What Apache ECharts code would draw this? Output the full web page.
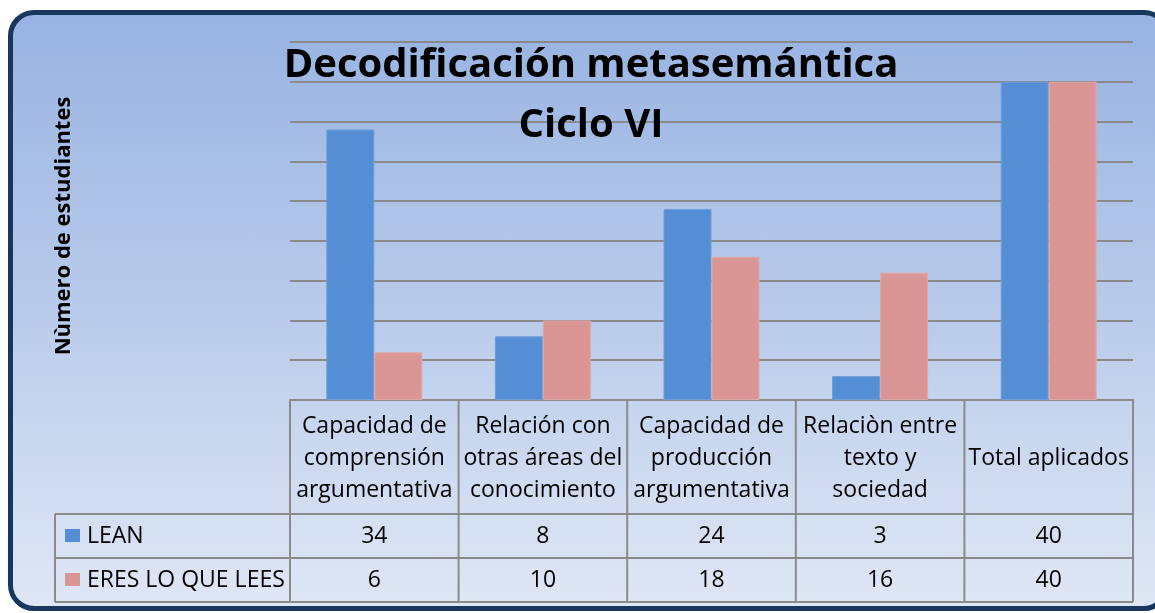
<!DOCTYPE html>
<html>
<head>
<meta charset="utf-8">
<script src="https://cdn.jsdelivr.net/npm/echarts@6/dist/echarts.min.js"></script>
<style>
  html, body { margin: 0; padding: 0; background: #fff; overflow: hidden; }
  #bg {
    position: absolute; left: 8px; top: 10px; width: 1162px; height: 601px;
    box-sizing: border-box; border: 5px solid #17375e; border-radius: 26px;
    background: linear-gradient(to bottom, #98b3e2 0%, #b9cbeb 50%, #dfe7f5 100%);
  }
  #chart { position: absolute; left: 0; top: 0; width: 1155px; height: 613px; }
</style>
</head>
<body>
<div id="bg"></div>
<div id="chart"></div>
<script>
const categories = [
  'Capacidad de\ncomprensión\nargumentativa',
  'Relación con\notras áreas del\nconocimiento',
  'Capacidad de\nproducción\nargumentativa',
  'Relaciòn entre\ntexto y\nsociedad',
  'Total aplicados',
]
const seriesNames = ['LEAN', 'ERES LO QUE LEES']
const leanValues = [34, 8, 24, 3, 40]
const eresValues = [6, 10, 18, 16, 40]
const colors = ['#558ed5', '#d99694']

// layout of plot + data table
const gridL = 290
const gridR = 1133
const axisY = 400
const rowLines = [514, 558, 602]
const legL = 55
const font = '"Open Sans", Lato, sans-serif'
const lineColor = '#8a8a8a'

const colW = (gridR - gridL) / categories.length
const graphics = []

// vertical lines of the table
for (let i = 0; i <= categories.length; i++) {
  const x = gridL + i * colW
  graphics.push({ type: 'line', shape: { x1: x, y1: axisY, x2: x, y2: rowLines[2] }, style: { stroke: lineColor, lineWidth: 2 } })
}
graphics.push({ type: 'line', shape: { x1: legL, y1: rowLines[0], x2: legL, y2: rowLines[2] }, style: { stroke: lineColor, lineWidth: 2 } })
// horizontal lines
rowLines.forEach((y) => {
  graphics.push({ type: 'line', shape: { x1: legL, y1: y, x2: gridR, y2: y }, style: { stroke: lineColor, lineWidth: 2 } })
})
// header texts
categories.forEach((c, i) => {
  graphics.push({
    type: 'text',
    style: {
      text: c, x: gridL + (i + 0.5) * colW, y: (axisY + rowLines[0]) / 2 + 1,
      align: 'center', verticalAlign: 'middle', font: '23px ' + font, lineHeight: 32, fill: '#000',
    },
  })
})
// value rows + legend keys
;[leanValues, eresValues].forEach((vals, r) => {
  const top = r === 0 ? rowLines[0] : rowLines[1]
  const cy = (top + rowLines[r + 1]) / 2
  graphics.push({ type: 'rect', shape: { x: 65, y: cy - 7, width: 15, height: 13 }, style: { fill: colors[r] } })
  graphics.push({
    type: 'text',
    style: { text: seriesNames[r], x: 87, y: cy, align: 'left', verticalAlign: 'middle', font: '23px ' + font, fill: '#000' },
  })
  vals.forEach((v, i) => {
    graphics.push({
      type: 'text',
      style: { text: String(v), x: gridL + (i + 0.5) * colW, y: cy, align: 'center', verticalAlign: 'middle', font: '23px ' + font, fill: '#000' },
    })
  })
})

const chart = echarts.init(document.getElementById('chart'))
chart.setOption({
  backgroundColor: 'transparent',
  animation: false,
  title: {
    text: 'Decodificación metasemántica\nCiclo VI',
    left: 586,
    top: 31,
    textAlign: 'center',
    textStyle: { fontFamily: font, fontSize: 40, fontWeight: 'bold', color: '#000', lineHeight: 60 },
  },
  grid: { left: gridL, right: 1155 - gridR, top: 42, bottom: 613 - axisY },
  xAxis: {
    type: 'category',
    data: categories,
    axisLine: { lineStyle: { color: lineColor, width: 2 } },
    axisTick: { show: false },
    axisLabel: { show: false },
  },
  yAxis: {
    type: 'value',
    min: 0,
    max: 45,
    interval: 5,
    name: 'Nùmero de estudiantes',
    nameLocation: 'middle',
    nameRotate: 90,
    nameGap: 215,
    nameTextStyle: { fontFamily: font, fontSize: 22, fontWeight: 'bold', color: '#000', padding: [0, 10, 0, 0] },
    axisLabel: { show: false },
    axisLine: { show: false },
    axisTick: { show: false },
    splitLine: { lineStyle: { color: lineColor, width: 2 } },
  },
  series: [
    {
      name: seriesNames[0], type: 'bar', data: leanValues, barWidth: 48, barGap: '0%',
      itemStyle: { color: colors[0], borderColor: '#6c9edb', borderWidth: 1 },
    },
    {
      name: seriesNames[1], type: 'bar', data: eresValues, barWidth: 48,
      itemStyle: { color: colors[1], borderColor: '#e0a8a6', borderWidth: 1 },
    },
  ],
  graphic: graphics,
})
</script>
</body>
</html>
